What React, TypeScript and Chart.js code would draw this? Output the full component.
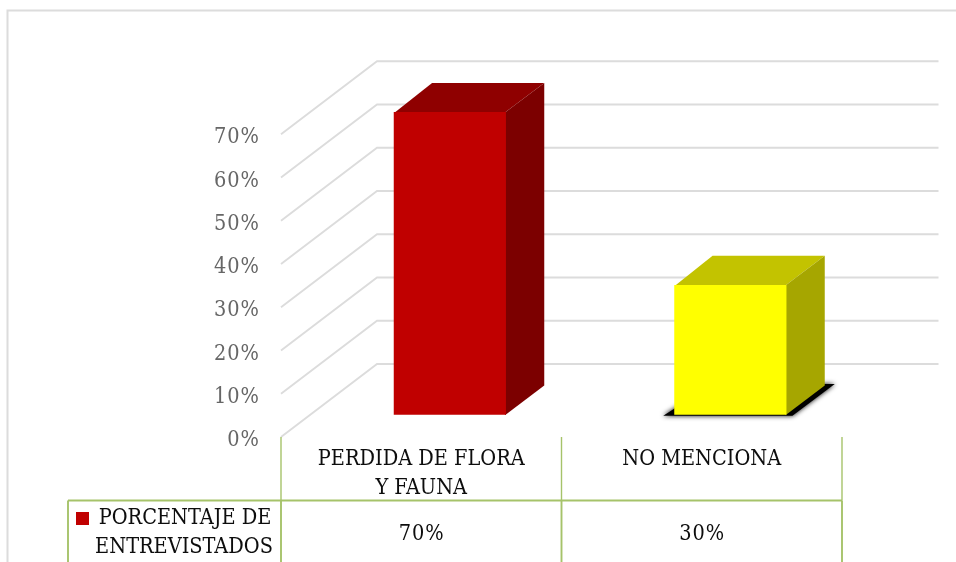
import React, { useEffect, useRef } from "react";
import { Chart, registerables } from "chart.js";

Chart.register(...registerables);

const categories = [["PERDIDA DE FLORA", "Y FAUNA"], ["NO MENCIONA"]];
const values = [70, 30];
const tableValues = ["70%", "30%"];
const legendLines = ["PORCENTAJE DE", "ENTREVISTADOS"];
const frontColors = ["#c00000", "#ffff00"];
const topColors = ["#8f0000", "#c3c300"];
const sideColors = ["#7c0000", "#a6a600"];
const hasShadow = [false, true];

const FONT = '"DejaVu Serif Condensed", "DejaVu Serif", serif';
const WALL_DX = 96;
const WALL_DY = -73;
const BAR_SHIFT_X = 28.6;
const BAR_SHIFT_Y = -22.2;
const BAR_DX = 38.3;
const BAR_DY = -29.2;
const GRID = "#dcdcdc";
const TABLE = "#a6c36a";
const TEXT_SIZE = 21.5;
const WIDE = "1px";

function poly(ctx: CanvasRenderingContext2D, pts: number[][], fill: string) {
  ctx.beginPath();
  pts.forEach((p, i) => (i ? ctx.lineTo(p[0], p[1]) : ctx.moveTo(p[0], p[1])));
  ctx.closePath();
  ctx.fillStyle = fill;
  ctx.fill();
}

function spaced(s: any, spacing: string) {
  const base = Object.getPrototypeOf(s).drawLabels;
  s.drawLabels = function (area: any) {
    const c = s.ctx;
    c.save();
    c.letterSpacing = spacing;
    base.call(s, area);
    c.restore();
  };
}

const scene3d = {
  id: "scene3d",
  beforeDatasetsDraw(chart: any) {
    const { ctx, chartArea: a, scales } = chart;
    ctx.save();
    ctx.strokeStyle = GRID;
    ctx.lineWidth = 2;
    ctx.beginPath();
    ctx.moveTo(7.5, 562);
    ctx.lineTo(7.5, 10.5);
    ctx.lineTo(956, 10.5);
    ctx.stroke();
    ctx.lineWidth = 1.9;
    scales.y.ticks.forEach((t: any) => {
      const y = scales.y.getPixelForValue(t.value);
      ctx.beginPath();
      ctx.moveTo(a.left, y);
      ctx.lineTo(a.left + WALL_DX, y + WALL_DY);
      ctx.lineTo(a.right + WALL_DX + 0.5, y + WALL_DY);
      ctx.stroke();
    });
    ctx.restore();
  },
  beforeDatasetDraw(chart: any, args: any) {
    const { ctx } = chart;
    const meta = chart.getDatasetMeta(args.index);
    ctx.save();
    ctx.translate(BAR_SHIFT_X, BAR_SHIFT_Y);
    meta.data.forEach((bar: any, i: number) => {
      const l = bar.x - bar.width / 2;
      const r = bar.x + bar.width / 2;
      const t = bar.y;
      const b = bar.base;
      if (hasShadow[i]) {
        ctx.save();
        ctx.shadowColor = "#000";
        ctx.shadowBlur = 5;
        poly(ctx, [[l - 11, b + 1], [r + 6, b + 1], [r + BAR_DX + 10, b + BAR_DY - 1.5], [l + BAR_DX, b + BAR_DY - 1.5]], "#000");
        ctx.restore();
      }
      poly(ctx, [[l + 1, t + 0.5], [l + BAR_DX, t + BAR_DY], [r + BAR_DX, t + BAR_DY], [r - 1, t + 0.5]], topColors[i]);
      poly(ctx, [[r - 1, t + 0.5], [r + BAR_DX, t + BAR_DY], [r + BAR_DX, b + BAR_DY], [r - 1, b + 0.5]], sideColors[i]);
    });
  },
  afterDatasetDraw(chart: any) {
    chart.ctx.restore();
  },
  afterDatasetsDraw(chart: any) {
    const { ctx, chartArea: a, scales } = chart;
    const x = scales.x;
    const step = x.getPixelForValue(1) - x.getPixelForValue(0);
    const edges = [a.left, ...values.map((_, i) => x.getPixelForValue(i) + step / 2)];
    const rowY = 500.5;
    const H = chart.height;
    const tableLeft = 68;
    ctx.save();
    ctx.strokeStyle = TABLE;
    ctx.lineWidth = 1.4;
    edges.forEach((e: number) => {
      ctx.beginPath();
      ctx.moveTo(e, a.bottom);
      ctx.lineTo(e, rowY);
      ctx.stroke();
    });
    ctx.lineWidth = 1.9;
    ctx.beginPath();
    ctx.moveTo(tableLeft, rowY);
    ctx.lineTo(a.right, rowY);
    ctx.stroke();
    [tableLeft, ...edges].forEach((e: number) => {
      ctx.beginPath();
      ctx.moveTo(e, rowY);
      ctx.lineTo(e, H);
      ctx.stroke();
    });
    ctx.fillStyle = frontColors[0];
    ctx.fillRect(76, 512, 13, 13);
    ctx.fillStyle = "#0d0d0d";
    ctx.font = `${TEXT_SIZE}px ${FONT}`;
    ctx.textBaseline = "middle";
    ctx.textAlign = "center";
    ctx.fillText(legendLines[0], 185, 518.5);
    ctx.fillText(legendLines[1], 184, 547.5);
    ctx.letterSpacing = WIDE;
    tableValues.forEach((v, i) => ctx.fillText(v, x.getPixelForValue(i) + 0.5, 534));
    ctx.restore();
  },
};

export default function App() {
  const ref = useRef<HTMLCanvasElement>(null);
  useEffect(() => {
    document.body.style.margin = "0";
    const chart = new Chart(ref.current!, {
      type: "bar",
      data: {
        labels: categories,
        datasets: [
          {
            label: legendLines.join(" "),
            data: values,
            backgroundColor: frontColors,
            barPercentage: 0.4,
            categoryPercentage: 1,
            clip: false,
          } as any,
        ],
      },
      plugins: [scene3d],
      options: {
        animation: false,
        responsive: false,
        layout: { padding: { top: 134.3, right: 114, left: 0, bottom: 0 } },
        plugins: { legend: { display: false }, tooltip: { enabled: false }, title: { display: false } },
        scales: {
          x: {
            grid: { display: false },
            border: { display: false },
            afterFit: (s: any) => {
              s.height = 125;
            },
            ticks: {
              color: "#0d0d0d",
              font: { family: FONT, size: TEXT_SIZE, lineHeight: 1.35 },
              padding: 0,
              maxRotation: 0,
              autoSkip: false,
            },
          },
          y: {
            min: 0,
            max: 70,
            grid: { display: false },
            border: { display: false },
            afterFit: (s: any) => {
              s.width = 281;
              spaced(s, WIDE);
            },
            ticks: {
              stepSize: 10,
              color: "#666666",
              font: { family: FONT, size: TEXT_SIZE },
              padding: 13,
              labelOffset: 3.5,
              callback: (v: any) => `${v}%`,
            },
          },
        },
      },
    } as any);
    return () => chart.destroy();
  }, []);
  return <canvas ref={ref} width={956} height={562} style={{ display: "block", background: "#fff" }} />;
}
